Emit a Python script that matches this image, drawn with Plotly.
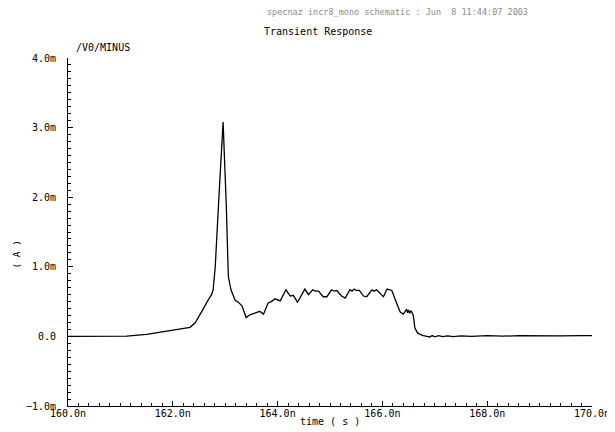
import plotly.graph_objects as go

# time in ns, current in mA
time_ns = [160.0, 160.5, 160.94, 161.12, 161.5, 161.76, 162.0, 162.2, 162.33,
           162.43, 162.52, 162.6, 162.68, 162.74, 162.77, 162.81, 162.88, 162.96,
           163.02, 163.06, 163.11, 163.15, 163.19, 163.25, 163.32, 163.40, 163.44,
           163.47, 163.55, 163.66, 163.73, 163.82, 163.88, 163.95, 164.05, 164.16,
           164.24, 164.30, 164.38, 164.45, 164.52, 164.59, 164.63, 164.67, 164.72,
           164.78, 164.87, 164.94, 165.03, 165.08, 165.13, 165.22, 165.29, 165.38,
           165.42, 165.46, 165.50, 165.56, 165.64, 165.70, 165.80, 165.84, 165.89,
           166.02, 166.09, 166.18, 166.27, 166.34, 166.40, 166.44, 166.46, 166.48,
           166.50, 166.52, 166.54, 166.56, 166.59, 166.62, 166.67, 166.72, 166.78,
           166.85, 166.9, 166.95, 167.0, 167.07, 167.15, 167.25, 167.35, 167.5,
           167.7, 168.0, 168.3, 168.6, 169.0, 169.4, 169.8, 170.0]
current_mA = [0.0, 0.0, 0.0, 0.005, 0.03, 0.06, 0.085, 0.105, 0.13,
              0.2, 0.31, 0.42, 0.53, 0.60, 0.67, 1.0, 2.0, 3.08,
              1.9, 0.86, 0.67, 0.6, 0.52, 0.49, 0.44, 0.27, 0.29,
              0.31, 0.33, 0.36, 0.32, 0.48, 0.50, 0.54, 0.51, 0.67,
              0.58, 0.59, 0.49, 0.58, 0.68, 0.60, 0.63, 0.67, 0.65,
              0.65, 0.57, 0.57, 0.67, 0.65, 0.66, 0.58, 0.55, 0.67,
              0.65, 0.68, 0.66, 0.66, 0.58, 0.57, 0.67, 0.65, 0.67,
              0.57, 0.68, 0.66, 0.48, 0.35, 0.32, 0.36, 0.39, 0.34,
              0.38, 0.33, 0.37, 0.35, 0.30, 0.12, 0.05, 0.03, 0.01,
              0.0, -0.008, 0.012, -0.005, 0.01, -0.004, 0.008, -0.002, 0.008,
              0.0, 0.01, 0.003, 0.01, 0.004, 0.008, 0.01, 0.01]

x_tick_vals = [160, 162, 164, 166, 168, 170]
x_tick_text = ["160.0n", "162.0n", "164.0n", "166.0n", "168.0n", "170.0n"]
y_tick_vals = [-1, 0, 1, 2, 3, 4]
y_tick_text = ["\u22121.0m", "0.0", "1.0m", "2.0m", "3.0m", "4.0m"]

FONT = "DejaVu Sans Mono"

fig = go.Figure()
fig.add_trace(go.Scatter(x=time_ns, y=current_mA, mode="lines",
                         line=dict(color="black", width=1.3),
                         name="/V0/MINUS", showlegend=False))

fig.update_layout(
    width=607, height=424,
    margin=dict(l=60, r=23, t=50, b=26),
    paper_bgcolor="white", plot_bgcolor="white",
    font=dict(family=FONT, size=10, color="black"),
)
fig.update_xaxes(
    range=[160, 170], showgrid=False, zeroline=False, automargin=False,
    showline=True, linecolor="black", linewidth=1,
    tickvals=x_tick_vals, ticktext=x_tick_text,
    ticks="inside", ticklen=5, tickcolor="black",
    minor=dict(dtick=0.2, ticks="inside", ticklen=3, tickcolor="black"),
    tickfont=dict(family=FONT, size=10), ticklabelstandoff=-2,
)
fig.update_yaxes(
    range=[-1, 4], showgrid=False, zeroline=False, automargin=False,
    showline=True, linecolor="black", linewidth=1,
    tickvals=y_tick_vals, ticktext=y_tick_text,
    ticks="inside", ticklen=5, tickcolor="black",
    minor=dict(dtick=0.1, ticks="inside", ticklen=3, tickcolor="black"),
    tickfont=dict(family=FONT, size=10), ticklabelstandoff=9,
)

fig.add_annotation(text="specnaz incr8_mono schematic : Jun  8 11:44:07 2003",
                   xref="paper", yref="paper", x=0.628, y=1, yshift=46,
                   showarrow=False, font=dict(family=FONT, size=8.5, color="#8a8a8a"),
                   xanchor="center", yanchor="middle")
fig.add_annotation(text="Transient Response",
                   xref="paper", yref="paper", x=0.477, y=1, yshift=27,
                   showarrow=False, font=dict(family=FONT, size=10, color="black"),
                   xanchor="center", yanchor="middle")
fig.add_annotation(text="/V0/MINUS",
                   xref="paper", yref="paper", x=0, xshift=6, y=1, yshift=11,
                   showarrow=False, font=dict(family=FONT, size=10, color="black"),
                   xanchor="left", yanchor="middle")
fig.add_annotation(text="( A )",
                   xref="paper", yref="paper", x=0, xshift=-51, y=0.435,
                   showarrow=False, textangle=-90,
                   font=dict(family=FONT, size=9.5, color="black"),
                   xanchor="center", yanchor="middle")
fig.add_annotation(text="time ( s )",
                   xref="paper", yref="paper", x=0.5, y=0, yshift=-15,
                   showarrow=False, font=dict(family=FONT, size=10, color="black"),
                   xanchor="center", yanchor="middle")

fig.write_html("out.html")
